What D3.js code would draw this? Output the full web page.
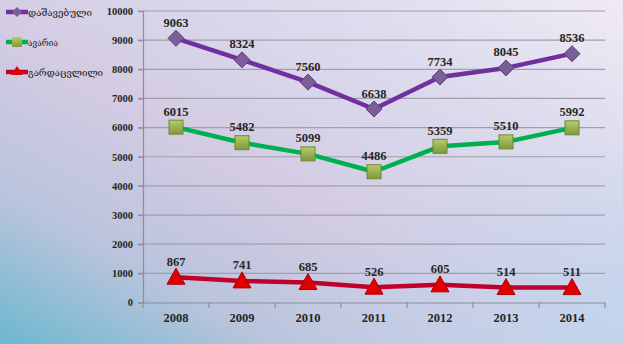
<!DOCTYPE html>
<html><head><meta charset="utf-8">
<script src="https://cdn.jsdelivr.net/npm/d3@7"></script>
<style>html,body{margin:0;padding:0;overflow:hidden;}svg{display:block;}</style>
</head><body>
<svg id="c" width="623" height="344"></svg>
<script>
const years = ["2008","2009","2010","2011","2012","2013","2014"];
const injured = [9063, 8324, 7560, 6638, 7734, 8045, 8536];
const accidents = [6015, 5482, 5099, 4486, 5359, 5510, 5992];
const deaths = [867, 741, 685, 526, 605, 514, 511];
const seriesNames = ["დაშავებული", "ავარია", "გარდაცვლილი"];
const yTicks = [0,1000,2000,3000,4000,5000,6000,7000,8000,9000,10000];

const svg = d3.select("#c");
const W = 623, H = 344;
const defs = svg.append("defs");
const bg = defs.append("linearGradient").attr("id","bg").attr("x1","0").attr("y1","1").attr("x2","1").attr("y2","0");
bg.append("stop").attr("offset","0").attr("stop-color","#6cb8cf");
bg.append("stop").attr("offset","0.22").attr("stop-color","#b9c4dc");
bg.append("stop").attr("offset","0.45").attr("stop-color","#d3cbe3");
bg.append("stop").attr("offset","0.75").attr("stop-color","#dcdcee");
bg.append("stop").attr("offset","1").attr("stop-color","#f0eaf5");
svg.append("rect").attr("width",W).attr("height",H).attr("fill","url(#bg)");
const bg2 = defs.append("radialGradient").attr("id","bg2").attr("cx","1").attr("cy","1").attr("r","0.6");
bg2.append("stop").attr("offset","0").attr("stop-color","#bcd6ee").attr("stop-opacity",0.8);
bg2.append("stop").attr("offset","1").attr("stop-color","#bcd6ee").attr("stop-opacity",0);
svg.append("rect").attr("width",W).attr("height",H).attr("fill","url(#bg2)");

const sq = defs.append("linearGradient").attr("id","sq").attr("x1","0").attr("y1","0").attr("x2","0").attr("y2","1");
sq.append("stop").attr("offset","0").attr("stop-color","#b5cc6a");
sq.append("stop").attr("offset","1").attr("stop-color","#7f9a3a");

const x = d3.scaleBand().domain(years).range([143, 605]);
const y = d3.scaleLinear().domain([0,10000]).range([302.5, 11]);

// gridlines
svg.append("g").selectAll("line").data(yTicks.slice(1)).join("line")
  .attr("x1",138).attr("x2",605).attr("y1",d=>y(d)).attr("y2",d=>y(d))
  .attr("stroke","#a0a0a8").attr("stroke-width",1.2);

const yAxis = svg.append("g").attr("transform","translate(143,0)")
  .call(d3.axisLeft(y).tickValues(yTicks).tickSize(5).tickPadding(5).tickFormat(d3.format("d")));
const xAxis = svg.append("g").attr("transform","translate(0,302.5)")
  .call(d3.axisBottom(x).tickSize(0).tickPadding(11));
[yAxis, xAxis].forEach(a=>{
  a.select(".domain").attr("stroke","#8e8e96").attr("stroke-width",1.2);
  a.selectAll("line").attr("stroke","#8e8e96").attr("stroke-width",1.2);
  a.selectAll("text").attr("font-family","'Liberation Serif','Times New Roman',serif")
    .attr("font-weight","bold").attr("fill","#262626");
});
yAxis.selectAll("text").attr("font-size","10.5px");
xAxis.selectAll("text").attr("font-size","12.5px");
// category boundary ticks
svg.append("g").selectAll("line").data(d3.range(years.length+1)).join("line")
  .attr("x1",i=>143+i*x.step()).attr("x2",i=>143+i*x.step())
  .attr("y1",302.5).attr("y2",308).attr("stroke","#8e8e96").attr("stroke-width",1.2);

const cx = d=>x(d)+x.bandwidth()/2;
const series = [
  {vals:injured, color:"#7030a0", marker:"diamond"},
  {vals:accidents, color:"#00b050", marker:"square"},
  {vals:deaths, color:"#c0002a", marker:"triangle"}
];
const line = d3.line().x((d,i)=>cx(years[i])).y(d=>y(d));

function drawMarker(g, type, px, py){
  if(type==="diamond"){
    g.append("path").attr("d",`M${px},${py-8}L${px+8},${py}L${px},${py+8}L${px-8},${py}Z`)
      .attr("fill","#7b5d98").attr("stroke","#5c4477").attr("stroke-width",1);
  } else if(type==="square"){
    g.append("rect").attr("x",px-7).attr("y",py-7).attr("width",14).attr("height",14)
      .attr("fill","url(#sq)").attr("stroke","#6e8a30").attr("stroke-width",1);
  } else {
    g.append("path").attr("d",`M${px},${py-9}L${px+9},${py+7}L${px-9},${py+7}Z`)
      .attr("fill","#e00000").attr("stroke","#b00000").attr("stroke-width",1);
  }
}

series.forEach(s=>{
  svg.append("path").datum(s.vals).attr("d",line).attr("fill","none")
    .attr("stroke",s.color).attr("stroke-width",4.5).attr("stroke-linejoin","round");
  const g = svg.append("g");
  s.vals.forEach((v,i)=>drawMarker(g, s.marker, cx(years[i]), y(v)));
  svg.append("g").selectAll("text").data(s.vals).join("text")
    .attr("x",(d,i)=>cx(years[i])).attr("y",d=>y(d)-11.5)
    .attr("text-anchor","middle")
    .attr("font-family","'Liberation Serif','Times New Roman',serif")
    .attr("font-weight","bold").attr("font-size","12.5px").attr("fill","#262626")
    .text(d=>d);
});

// legend
const legWidths = [64, 30, 75];
const leg = svg.append("g");
series.forEach((s,i)=>{
  const ly = 12 + i*30;
  leg.append("line").attr("x1",6).attr("x2",28).attr("y1",ly).attr("y2",ly)
    .attr("stroke",s.color).attr("stroke-width",4.5);
  const lg = leg.append("g");
  if(s.marker==="diamond"){
    lg.append("path").attr("d",`M17,${ly-5}L22,${ly}L17,${ly+5}L12,${ly}Z`).attr("fill","#7b5d98");
  } else if(s.marker==="square"){
    lg.append("rect").attr("x",12).attr("y",ly-5).attr("width",10).attr("height",10).attr("fill","url(#sq)");
  } else {
    lg.append("path").attr("d",`M17,${ly-6}L23,${ly+3}L11,${ly+3}Z`).attr("fill","#e00000");
  }
  leg.append("text").attr("x",28).attr("y",ly+4)
    .attr("font-family","Sylfaen,'DejaVu Serif','DejaVu Sans',serif")
    .attr("font-size","10px").attr("fill","#1a1a1a")
    .attr("textLength",legWidths[i]).attr("lengthAdjust","spacingAndGlyphs")
    .text(seriesNames[i]);
});
</script>
</body></html>
